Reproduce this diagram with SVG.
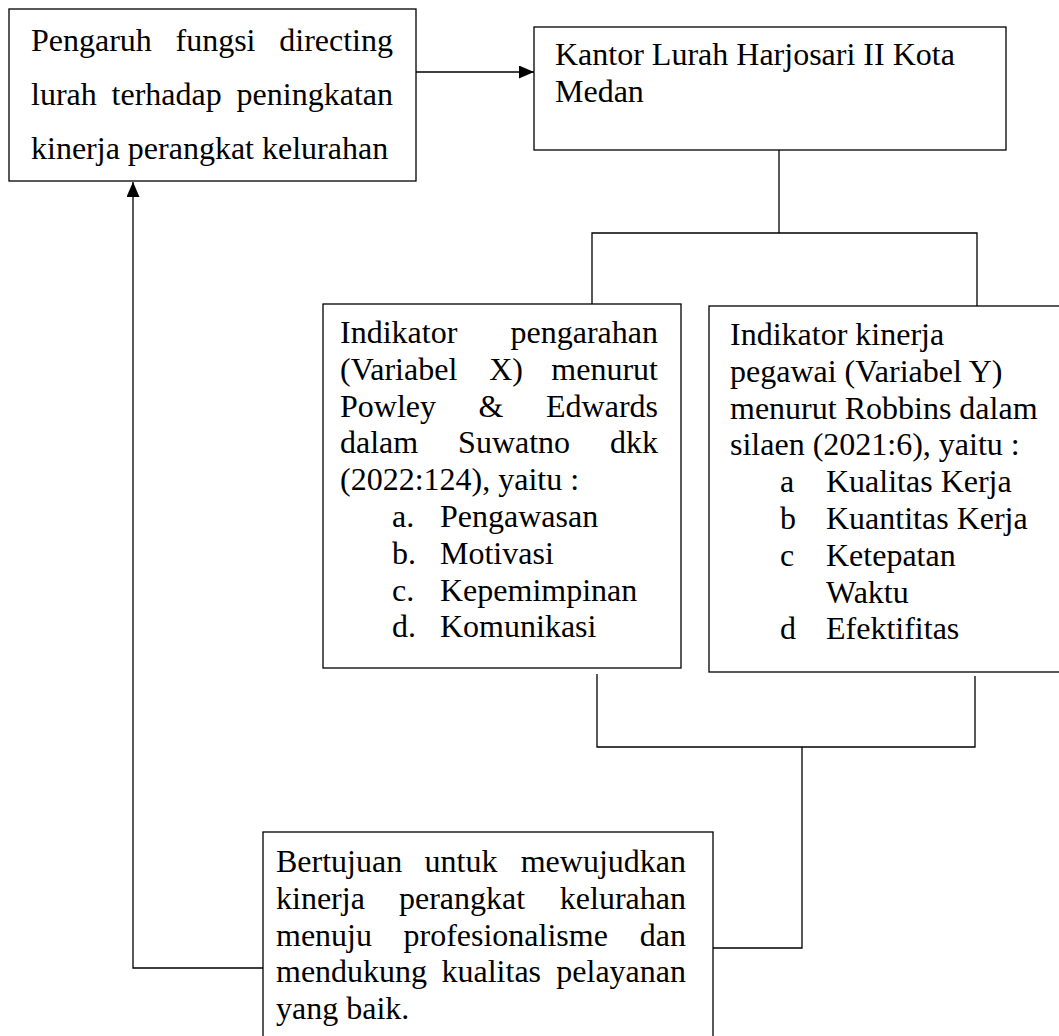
<svg xmlns="http://www.w3.org/2000/svg" width="1059" height="1036" viewBox="0 0 1059 1036">
<style>
.box{fill:#fff;stroke:#000;stroke-width:1.3}
.ln{fill:none;stroke:#000;stroke-width:1.3}
text{font-family:"Liberation Serif","Times New Roman",serif;font-size:32px;fill:#000}
.e{text-anchor:end}
</style>
<defs>
<marker id="ah" viewBox="0 0 10 10" refX="10" refY="5" markerWidth="15" markerHeight="13" markerUnits="userSpaceOnUse" orient="auto" preserveAspectRatio="none">
<path d="M0,0 L10,5 L0,10 Z" fill="#000"/>
</marker>
</defs>
<rect width="1059" height="1036" fill="#fff"/>
<g id="connectors">
<line class="ln" x1="416" y1="72" x2="534" y2="72" marker-end="url(#ah)"/>
<polyline class="ln" points="779,150 779,233"/>
<polyline class="ln" points="592,304 592,233 977,233 977,306"/>
<polyline class="ln" points="597,674 597,747 975,747 975,676"/>
<polyline class="ln" points="802,747 802,948 713,948"/>
<polyline class="ln" points="263,968 133,968 133,182" marker-end="url(#ah)"/>
</g>
<g id="node-pengaruh">
<rect class="box" x="9" y="9" width="407" height="172"/>
<text x="31" y="51">Pengaruh</text><text x="175.5" y="51">fungsi</text><text class="e" x="393" y="51">directing</text>
<text x="31" y="105">lurah</text><text x="111.6" y="105">terhadap</text><text class="e" x="393" y="105">peningkatan</text>
<text x="31" y="159">kinerja perangkat kelurahan</text>
</g>
<g id="node-kantor">
<rect class="box" x="534" y="27" width="472" height="123"/>
<text x="555" y="65">Kantor Lurah Harjosari II Kota</text>
<text x="555" y="102">Medan</text>
</g>
<g id="node-indikator-x">
<rect class="box" x="323" y="304" width="358" height="364"/>
<text x="340" y="343">Indikator</text><text class="e" x="658" y="343">pengarahan</text>
<text x="340" y="379.8">(Variabel</text><text x="489.2" y="379.8">X)</text><text class="e" x="658" y="379.8">menurut</text>
<text x="340" y="416.6">Powley</text><text x="478.6" y="416.6">&amp;</text><text class="e" x="658" y="416.6">Edwards</text>
<text x="340" y="453.4">dalam</text><text x="458.1" y="453.4">Suwatno</text><text class="e" x="658" y="453.4">dkk</text>
<text x="340" y="490.2">(2022:124), yaitu :</text>
<text x="392" y="527">a.</text><text x="440" y="527">Pengawasan</text>
<text x="392" y="563.8">b.</text><text x="440" y="563.8">Motivasi</text>
<text x="392" y="600.6">c.</text><text x="440" y="600.6">Kepemimpinan</text>
<text x="392" y="637.4">d.</text><text x="440" y="637.4">Komunikasi</text>
</g>
<g id="node-indikator-y">
<rect class="box" x="709" y="306" width="360" height="366"/>
<text x="730" y="345">Indikator kinerja</text>
<text x="730" y="381.8">pegawai (Variabel Y)</text>
<text x="730" y="418.6">menurut Robbins dalam</text>
<text x="730" y="455.4">silaen (2021:6), yaitu :</text>
<text x="780" y="492.2">a</text><text x="826" y="492.2">Kualitas Kerja</text>
<text x="780" y="529">b</text><text x="826" y="529">Kuantitas Kerja</text>
<text x="780" y="565.8">c</text><text x="826" y="565.8">Ketepatan</text>
<text x="826" y="602.6">Waktu</text>
<text x="780" y="639.4">d</text><text x="826" y="639.4">Efektifitas</text>
</g>
<g id="node-tujuan">
<rect class="box" x="263" y="832" width="450" height="210"/>
<text x="276" y="872">Bertujuan</text><text x="424.5" y="872">untuk</text><text class="e" x="686" y="872">mewujudkan</text>
<text x="276" y="908.8">kinerja</text><text x="399" y="908.8">perangkat</text><text class="e" x="686" y="908.8">kelurahan</text>
<text x="276" y="945.6">menuju</text><text x="403.5" y="945.6">profesionalisme</text><text class="e" x="686" y="945.6">dan</text>
<text x="276" y="982.4">mendukung</text><text x="441.5" y="982.4">kualitas</text><text class="e" x="686" y="982.4">pelayanan</text>
<text x="276" y="1019.2">yang baik.</text>
</g>
</svg>
